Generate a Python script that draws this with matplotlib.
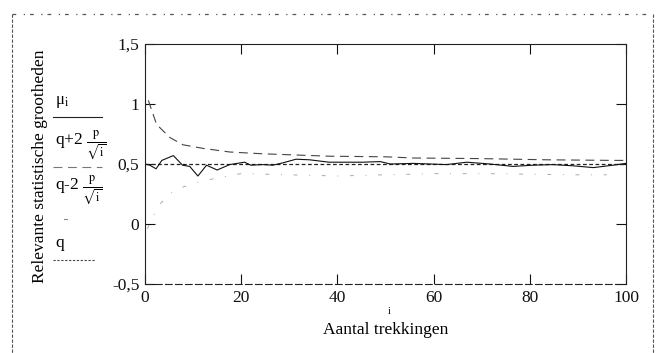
import matplotlib
matplotlib.use("Agg")
import matplotlib.pyplot as plt
from matplotlib.lines import Line2D

plt.rcParams['font.family'] = ['Liberation Serif', 'DejaVu Serif']
plt.rcParams['mathtext.fontset'] = 'stix'

mu_x = [0, 1, 2.3, 3.5, 5.9, 7.8, 9.3, 11, 12.8, 15, 17.6, 20.7, 22, 24.5, 26.6,
        28.7, 31.4, 34.2, 38.3, 45.2, 48.9, 51, 55.8, 62.7, 66.9, 71.7, 76.5,
        80.7, 84.8, 89, 93.2, 97.3, 100]
mu_y = [0.50, 0.49, 0.46, 0.53, 0.57, 0.49, 0.48, 0.40, 0.49, 0.45, 0.495, 0.515,
        0.49, 0.495, 0.49, 0.51, 0.54, 0.535, 0.515, 0.515, 0.52, 0.50, 0.505,
        0.495, 0.515, 0.50, 0.48, 0.49, 0.495, 0.485, 0.47, 0.49, 0.505]

# bovengrens q+2p/sqrt(i)
up_x = [0.7, 2.4, 5.2, 7.9, 12.1, 17.6, 24.5, 31.4, 38.3, 50, 55.8, 69.7, 83.5, 97.3, 100]
up_y = [1.03, 0.83, 0.72, 0.66, 0.63, 0.60, 0.585, 0.575, 0.565, 0.56, 0.55, 0.545,
        0.535, 0.53, 0.53]

# ondergrens q-2p/sqrt(i)
lo_x = [0.5, 1.5, 3, 5, 8, 12, 20, 30, 40, 50, 60, 70, 80, 90, 96]
lo_y = [-0.04, 0.05, 0.16, 0.25, 0.31, 0.36, 0.42, 0.41, 0.40, 0.41, 0.42, 0.42,
        0.415, 0.41, 0.41]

q_x = [0, 100]
q_y = [0.5, 0.5]

y_ticks = [-0.5, 0, 0.5, 1, 1.5]
y_labels = ['-0,5', '0', '0,5', '1', '1,5']
x_ticks = [0, 20, 40, 60, 80, 100]

W, H = 658, 353
fig = plt.figure(figsize=(W / 100, H / 100), dpi=100)
ax = fig.add_axes([145 / W, 1 - 284 / H, 481 / W, 240 / H])

ax.plot(q_x, q_y, color='#222222', lw=0.9, dashes=(3, 2))
ax.plot(up_x, up_y, color='#444444', lw=0.8, dashes=(8, 5))
ax.plot(lo_x, lo_y, color='#aaaaaa', lw=0.7, dashes=(4, 12, 1, 12))
ax.plot(mu_x, mu_y, color='#111111', lw=0.8)

ax.set_xlim(0, 100)
ax.set_ylim(-0.5, 1.5)
ax.set_xticks(x_ticks)
ax.set_yticks(y_ticks)
ax.set_yticklabels(y_labels)
ax.tick_params(direction='in', length=7, width=0.8, top=True, right=True,
               labelsize=12.5, pad=4, colors='#111111')
for s in ax.spines.values():
    s.set_linewidth(0.8)
    s.set_color('#222222')
ax.spines['bottom'].set_linestyle((0, (6, 3)))
ax.spines['left'].set_linestyle((0, (2, 1)))

ax.set_xlabel('Aantal trekkingen', fontsize=12.5, labelpad=12)
fig.text(389 / W, 1 - 312 / H, 'i', fontsize=7, ha='center', va='center')

fig.text(40 / W, 1 - 166 / H, 'Relevante statistische grootheden', rotation=90,
         fontsize=12.5, ha='center', va='center')

# legenda links
fig.text(55 / W, 1 - 102 / H, r'μ$_{\mathrm{i}}$', fontsize=12, va='center')
fig.add_artist(Line2D([53 / W, 102 / W], [1 - 117 / H] * 2, color='#222222', lw=0.8))
fig.text(55 / W, 1 - 145 / H, r'q+2 $\frac{\mathrm{p}}{\sqrt{\mathrm{i}}}$',
         fontsize=12.5, va='center')
fig.add_artist(Line2D([53 / W, 102 / W], [1 - 167 / H] * 2, color='#777777', lw=0.8,
                      dashes=(8, 5)))
fig.text(55 / W, 1 - 190 / H, r'q-2 $\frac{\mathrm{p}}{\sqrt{\mathrm{i}}}$',
         fontsize=12.5, va='center')
fig.add_artist(Line2D([64 / W, 67 / W], [1 - 219 / H] * 2, color='#888888', lw=0.8))
fig.text(55 / W, 1 - 243 / H, 'q', fontsize=12.5, va='center')
fig.add_artist(Line2D([53 / W, 95 / W], [1 - 260 / H] * 2, color='#444444', lw=0.8,
                      dashes=(2, 1.5)))

# buitenkader
fig.add_artist(Line2D([12 / W, 12 / W], [1 - 14 / H, 0], color='#555555', lw=0.8,
                      dashes=(3, 1.5)))
fig.add_artist(Line2D([653 / W, 653 / W], [1 - 14 / H, 0], color='#555555', lw=0.8,
                      dashes=(3, 1.5)))
fig.add_artist(Line2D([12 / W, 653 / W], [1 - 14 / H] * 2, color='#555555', lw=0.9,
                      dashes=(3, 6, 1, 4)))

fig.savefig('out.png', dpi=100)
